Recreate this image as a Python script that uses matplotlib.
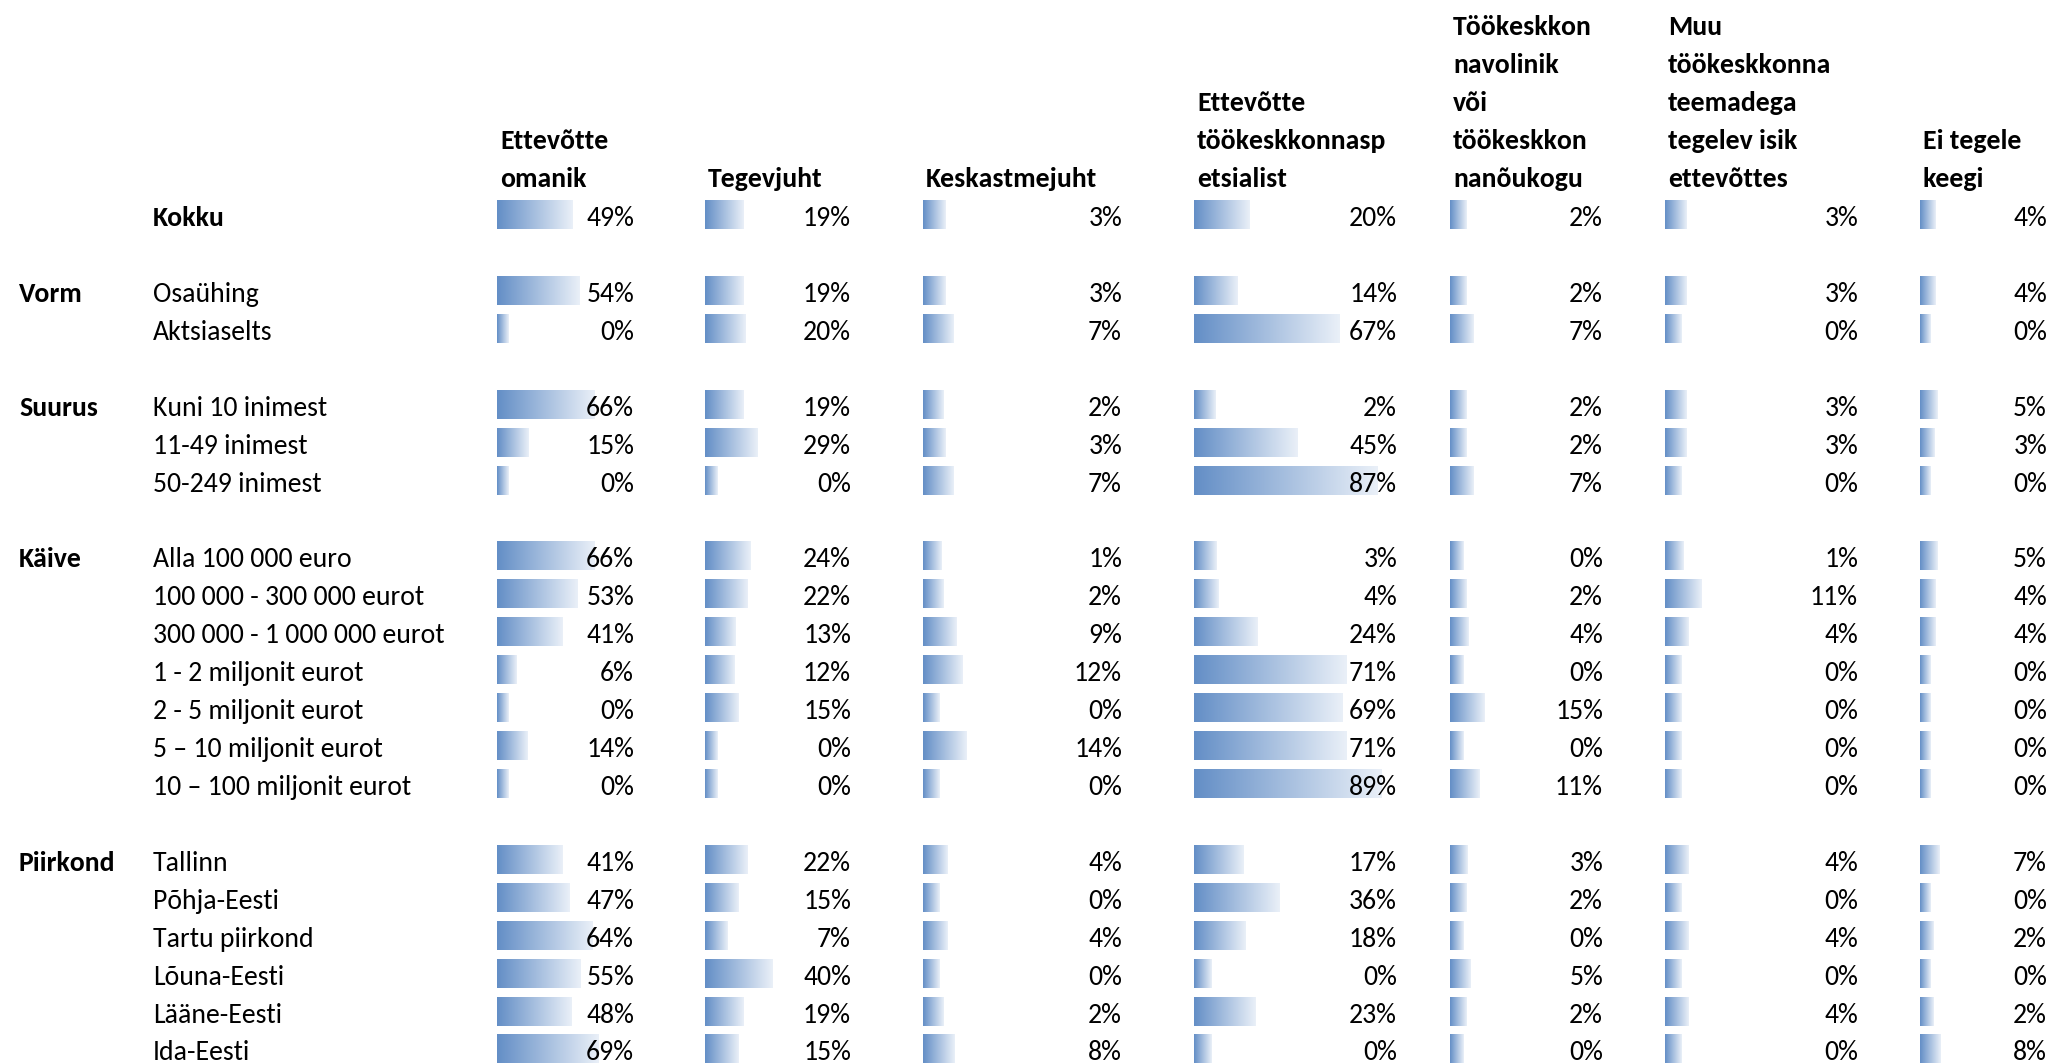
import matplotlib
matplotlib.use("Agg")
import matplotlib.pyplot as plt
import numpy as np
from matplotlib import font_manager
from matplotlib.colors import LinearSegmentedColormap
from matplotlib.transforms import offset_copy

# ---------------- data ----------------
headers = [
    ["Ettevõtte", "omanik"],
    ["Tegevjuht"],
    ["Keskastmejuht"],
    ["Ettevõtte", "töökeskkonnasp", "etsialist"],
    ["Töökeskkon", "navolinik", "või", "töökeskkon", "nanõukogu"],
    ["Muu", "töökeskkonna", "teemadega", "tegelev isik", "ettevõttes"],
    ["Ei tegele", "keegi"],
]

group_names = ["", "Vorm", "Suurus", "Käive", "Piirkond"]
group_rows = [
    ["Kokku"],
    ["Osaühing", "Aktsiaselts"],
    ["Kuni 10 inimest", "11-49 inimest", "50-249 inimest"],
    ["Alla 100 000 euro", "100 000 - 300 000 eurot", "300 000 - 1 000 000 eurot",
     "1 - 2 miljonit eurot", "2 - 5 miljonit eurot", "5 – 10 miljonit eurot",
     "10 – 100 miljonit eurot"],
    ["Tallinn", "Põhja-Eesti", "Tartu piirkond", "Lõuna-Eesti", "Lääne-Eesti", "Ida-Eesti"],
]

omanik = [49, 54, 0, 66, 15, 0, 66, 53, 41, 6, 0, 14, 0, 41, 47, 64, 55, 48, 69]
tegevjuht = [19, 19, 20, 19, 29, 0, 24, 22, 13, 12, 15, 0, 0, 22, 15, 7, 40, 19, 15]
keskastmejuht = [3, 3, 7, 2, 3, 7, 1, 2, 9, 12, 0, 14, 0, 4, 0, 4, 0, 2, 8]
spetsialist = [20, 14, 67, 2, 45, 87, 3, 4, 24, 71, 69, 71, 89, 17, 36, 18, 0, 23, 0]
volinik = [2, 2, 7, 2, 2, 7, 0, 2, 4, 0, 15, 0, 11, 3, 2, 0, 5, 2, 0]
muu_isik = [3, 3, 0, 3, 3, 0, 1, 11, 4, 0, 0, 0, 0, 4, 0, 4, 0, 4, 0]
ei_keegi = [4, 4, 0, 5, 3, 0, 5, 4, 4, 0, 0, 0, 0, 7, 0, 2, 0, 2, 8]
series = [omanik, tegevjuht, keskastmejuht, spetsialist, volinik, muu_isik, ei_keegi]

# ---------------- style / layout ----------------
avail = {f.name for f in font_manager.fontManager.ttflist}
if "Carlito" in avail:
    FAM, FS = "Carlito", 20
else:
    FAM, FS = "Lato", 19.5
plt.rcParams["font.family"] = [FAM, "DejaVu Sans"]

W_PX, H_PX = 2051, 1064
ROW0, PITCH = 215.0, 37.93
ytop = -ROW0 / PITCH
ybot = (H_PX - ROW0) / PITCH
BASE = 0.29          # baseline offset (rows) below row centre
BAR_H = 0.74
LO = -9.05           # minimum data-bar length

col_x0 = [497, 705, 923, 1194, 1450, 1665, 1920]
col_w = [142, 151, 204, 208, 158, 198, 132]

cmap = LinearSegmentedColormap.from_list("databar", ["#638EC6", "#EAF0F8"])
grad = np.linspace(0, 1, 256).reshape(1, -1)

# row positions: one blank row between groups
ypos, labels, bold_flags, group_pos = [], [], [], []
r = 0
for gi, rows in enumerate(group_rows):
    group_pos.append(r)
    for j, lab in enumerate(rows):
        ypos.append(r)
        labels.append(lab)
        bold_flags.append(gi == 0)
        r += 1
    r += 1

fig = plt.figure(figsize=(W_PX / 100, H_PX / 100), dpi=100)
fig.patch.set_facecolor("white")

lab_ax = fig.add_axes([0, 0, 1, 1])
lab_ax.set_xlim(0, W_PX)
lab_ax.set_ylim(ybot, ytop)
lab_ax.axis("off")

for g, y in zip(group_names, group_pos):
    if g:
        lab_ax.text(19, y + BASE, g, fontsize=FS, fontweight="bold", va="baseline", ha="left")
for lab, y, b in zip(labels, ypos, bold_flags):
    lab_ax.text(153, y + BASE, lab, fontsize=FS, fontweight="bold" if b else "normal",
                va="baseline", ha="left")

for ci, (vals, hdr) in enumerate(zip(series, headers)):
    ax = fig.add_axes([col_x0[ci] / W_PX, 0, col_w[ci] / W_PX, 1])
    ax.axis("off")
    bars = ax.barh(ypos, [v - LO for v in vals], left=LO, height=BAR_H,
                   color="none", linewidth=0)
    for b in bars:
        x, y, w, h = b.get_x(), b.get_y(), b.get_width(), b.get_height()
        ax.imshow(grad, extent=[x, x + w, y + h, y], cmap=cmap, aspect="auto",
                  interpolation="bilinear", zorder=1)
    ax.set_xlim(LO, 100)
    ax.set_ylim(ybot, ytop)
    tr = offset_copy(ax.get_yaxis_transform(), fig=fig, x=-5, y=0, units="dots")
    for v, y in zip(vals, ypos):
        ax.text(1, y + BASE, f"{v}%", transform=tr, ha="right", va="baseline",
                fontsize=FS, zorder=3)
    # header, bottom aligned above first row
    n = len(hdr)
    for k, line in enumerate(hdr):
        yy = -(n - k) + BASE - 0.03
        lab_ax.text(col_x0[ci] + 3, yy, line, fontsize=FS, fontweight="bold",
                    va="baseline", ha="left")

fig.savefig("out.png", dpi=100, facecolor="white")
